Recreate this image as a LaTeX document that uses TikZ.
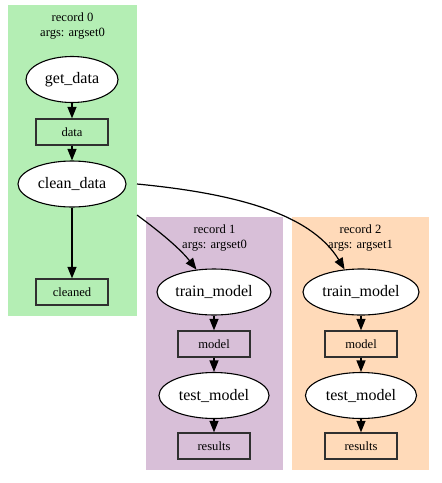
\documentclass[tikz,border=0pt]{standalone}
\usepackage{fontspec}
\setmainfont{Liberation Serif}
\usetikzlibrary{shapes.geometric,arrows.meta}
\definecolor{cgreen}{HTML}{B4EEB4}
\definecolor{cpurple}{HTML}{D8BFD8}
\definecolor{corange}{HTML}{FFDAB9}
\definecolor{boxline}{HTML}{303030}
\begin{document}
\begin{tikzpicture}[x=1pt,y=-1pt,
  cluster/.style={draw=none,inner sep=0pt,minimum height=253pt,minimum width=137pt},
  clabel/.style={font=\fontsize{12.6}{15}\selectfont,align=center,inner sep=0pt},
  task/.style={ellipse,draw=black,fill=white,line width=1.1pt,inner sep=0pt,minimum height=46pt,font=\fontsize{16}{18}\selectfont},
  artefact/.style={rectangle,draw=boxline,line width=1.3pt,inner sep=0pt,minimum width=72pt,minimum height=26pt,font=\fontsize{12.6}{15}\selectfont},
  edge/.style={draw=black,line width=1.2pt,-{Triangle[length=11.5pt,width=9pt]}}]
\useasboundingbox (0,0) rectangle (442,483);
% clusters
\node[cluster,fill=cgreen,minimum width=129pt,minimum height=311pt] (c0) at (72.5,160.5) {};
\node[cluster,fill=cpurple] (c1) at (214.5,343.5) {};
\node[cluster,fill=corange] (c2) at (360.5,343.5) {};
\node[clabel] (l0) at (72.5,25.5) {record 0\\args: argset0};
\node[clabel] (l1) at (214.5,237.5) {record 1\\args: argset0};
\node[clabel] (l2) at (360.5,237.5) {record 2\\args: argset1};
% record 0
\node[task,minimum width=92pt] (gd) at (72,79.5) {get\_data};
\node[artefact] (data) at (72,132) {data};
\node[task,minimum width=108pt] (cd) at (72,184) {clean\_data};
\node[artefact] (cl) at (72,292) {cleaned};
% record 1
\node[task,minimum width=114pt] (tr1) at (214,292) {train\_model};
\node[artefact] (m1) at (214,344) {model};
\node[task,minimum width=110pt] (te1) at (214,395.5) {test\_model};
\node[artefact] (r1) at (214,446) {results};
% record 2
\node[task,minimum width=116pt] (tr2) at (361,292) {train\_model};
\node[artefact] (m2) at (361,344) {model};
\node[task,minimum width=111pt] (te2) at (361,395.5) {test\_model};
\node[artefact] (r2) at (361,446) {results};
% edges
\draw[edge] (gd) -- (data);
\draw[edge] (data) -- (cd);
\draw[edge] (cd) -- (cl);
\draw[edge] (tr1) -- (m1);
\draw[edge] (m1) -- (te1);
\draw[edge] (te1) -- (r1);
\draw[edge] (tr2) -- (m2);
\draw[edge] (m2) -- (te2);
\draw[edge] (te2) -- (r2);
\coordinate (sA) at (137,215);
\coordinate (sB) at (137,184);
\draw[edge] (sA) .. controls (152,226) and (178,246) .. (tr1.128);
\draw[edge] (sB) .. controls (230,193) and (310,212) .. (tr2.126);
\end{tikzpicture}
\end{document}
